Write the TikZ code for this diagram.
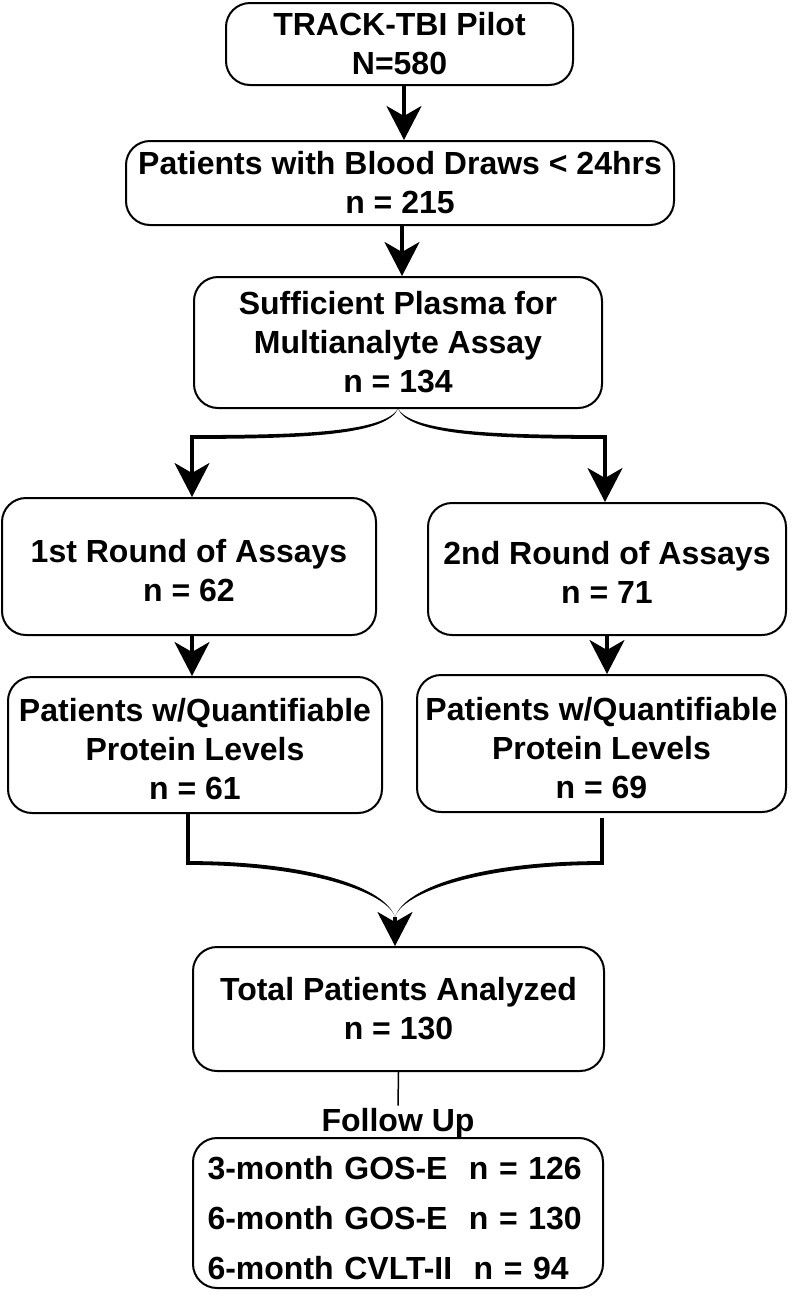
\documentclass[tikz,border=0pt]{standalone}
\usepackage{fontspec}
\setmainfont{Liberation Sans}
\usetikzlibrary{arrows.meta}
\begin{document}
\begin{tikzpicture}[x=1pt,y=-1pt,
  box/.style={draw, line width=2pt, rounded corners=24pt, align=center,
    font=\fontsize{32}{39}\selectfont\bfseries, inner sep=0pt},
  arr/.style={line width=3.5pt, -{Stealth[length=34pt,width=35pt,inset=10pt]}},
  bar/.style={line width=3.8pt},
  thinline/.style={line width=1.5pt},
  lbl/.style={font=\fontsize{32}{39}\selectfont\bfseries, inner sep=2pt}]
\useasboundingbox (0,0) rectangle (792,1299);

% boxes
\node[box, minimum width=347pt, minimum height=82pt] (b1) at (399.5,44) {TRACK-TBI Pilot\\N=580};
\node[box, minimum width=548pt, minimum height=84pt] (b2) at (400,183) {Patients with Blood Draws < 24hrs\\n = 215};
\node[box, minimum width=408pt, minimum height=131pt] (b3) at (398,342.5) {Sufficient Plasma for\\Multianalyte Assay\\n = 134};
\node[box, minimum width=374pt, minimum height=137pt] (b4) at (189,566.5) {\rule{0pt}{31pt}1st Round of Assays\\n = 62};
\node[box, minimum width=358pt, minimum height=132pt] (b5) at (607,569) {\rule{0pt}{29pt}2nd Round of Assays\\n = 71};
\node[box, minimum width=374pt, minimum height=136pt] (b6) at (195,745) {\rule{0pt}{31pt}Patients w/Quantifiable\\Protein Levels\\n = 61};
\node[box, minimum width=369pt, minimum height=137pt] (b7) at (601.5,743.5) {\rule{0pt}{33pt}Patients w/Quantifiable\\Protein Levels\\n = 69};
\node[box, minimum width=411pt, minimum height=124pt] (b8) at (398.5,1009) {Total Patients Analyzed\\n = 130};
\node[lbl, anchor=base] (fu) at (398,1131) {Follow Up};
\node[box, minimum width=410pt, minimum height=150pt, align=left, text width=381pt,
  font=\fontsize{32}{50}\selectfont\bfseries] (b9) at (398,1213)
  {\rule{0pt}{34pt}3-month GOS-E\ \ n = 126\\6-month GOS-E\ \ n = 130\\6-month CVLT-II\ \ n = 94};

% straight arrows
\coordinate (a1) at (404,0);
\coordinate (a2) at (402,0);
\draw[arr] (b1.south -| a1) -- (b2.north -| a1);
\draw[arr] (b2.south -| a2) -- (b3.north -| a2);

% split brace
\coordinate (sl) at (192,437);
\coordinate (sr) at (605,437);
\fill (b3.south) .. controls +(-15,22) and +(120,0) .. ([yshift=1.9pt]sl)
  -- ([yshift=-1.9pt]sl) .. controls +(120,0) and +(-12,25) .. (b3.south) -- cycle;
\fill (b3.south) .. controls +(15,22) and +(-120,0) .. ([yshift=1.9pt]sr)
  -- ([yshift=-1.9pt]sr) .. controls +(-120,0) and +(12,25) .. (b3.south) -- cycle;
\draw[arr] ([yshift=1.9pt]sl) -- (sl |- b4.north);
\draw[arr] ([yshift=1.9pt]sr) -- (sr |- b5.north);

% second level arrows
\coordinate (a3) at (192,0);
\coordinate (a4) at (607,0);
\draw[arr] (b4.south -| a3) -- (b6.north -| a3);
\draw[arr] (b5.south -| a4) -- (b7.north -| a4);

% merge brace
\coordinate (ml) at (188,863);
\coordinate (mr) at (602,863);
\coordinate (mm) at (395,917);
\draw[bar] (b6.south -| ml) -- ([yshift=-1.9pt]ml);
\draw[bar] ([yshift=-5pt]b7.south -| mr) -- ([yshift=-1.9pt]mr);
\fill ([yshift=1.9pt]ml) .. controls +(120,0) and +(-10,-30) .. (mm)
  .. controls +(-8,-25) and +(120,0) .. ([yshift=-1.9pt]ml) -- cycle;
\fill ([yshift=1.9pt]mr) .. controls +(-120,0) and +(10,-30) .. (mm)
  .. controls +(8,-25) and +(-120,0) .. ([yshift=-1.9pt]mr) -- cycle;
\draw[arr] (mm) -- (mm |- b8.north);

% follow up
\draw[thinline] (b8.south) -- (fu.north);
\end{tikzpicture}
\end{document}
